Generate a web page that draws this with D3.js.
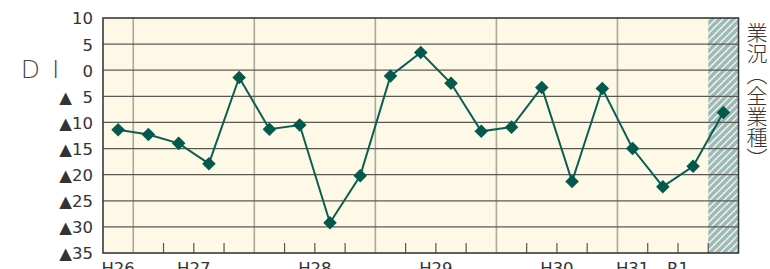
<!DOCTYPE html>
<html><head><meta charset="utf-8">
<script src="https://cdn.jsdelivr.net/npm/d3@7"></script>
<style>
html,body{margin:0;padding:0;background:#fff;}
svg{display:block;}
</style></head>
<body>
<svg id="c" width="770" height="269"></svg>
<script>
const quarters = ["H26.10-12",
  "H27.1-3","H27.4-6","H27.7-9","H27.10-12",
  "H28.1-3","H28.4-6","H28.7-9","H28.10-12",
  "H29.1-3","H29.4-6","H29.7-9","H29.10-12",
  "H30.1-3","H30.4-6","H30.7-9","H30.10-12",
  "H31.1-3","R1.4-6","R1.7-9","R1.10-12"];
const diValues = [-11.4,-12.3,-14.0,-17.9,-1.4,
  -11.3,-10.5,-29.2,-20.2,
  -1.1,3.4,-2.5,-11.7,
  -10.9,-3.3,-21.3,-3.5,
  -15.0,-22.3,-18.4,-8.1];
const yTicks = [10,5,0,-5,-10,-15,-20,-25,-30,-35];
const yearLabels = ["H26","H27","H28","H29","H30","H31","R1"];
const yearLabelAt = [0, 2.5, 6.5, 10.5, 14.5, 17, 18.5]; // in quarter-index units
const yearStarts = ["H27.1-3","H28.1-3","H29.1-3","H30.1-3","H31.1-3"];
const forecastFrom = "R1.10-12";
const yTitle = "D I";
const seriesTitle = "業況（全業種）";

const svg = d3.select("#c");
const L = 103, R = 738.5, T = 18, B = 253;
const x = d3.scaleBand().domain(quarters).range([L, R]);
const bw = x.bandwidth();
const xi = i => L + (i + 0.5) * bw;
const y = d3.scaleLinear().domain([10, -35]).range([T, B]);

// background
svg.append("rect").attr("x", L).attr("y", T).attr("width", R - L).attr("height", B - T).attr("fill", "#fdf9e6");

// hatch pattern for forecast
const defs = svg.append("defs");
const pat = defs.append("pattern").attr("id", "hatch").attr("patternUnits", "userSpaceOnUse")
  .attr("width", 7).attr("height", 7);
pat.append("rect").attr("width", 7).attr("height", 7).attr("fill", "#9dbab7");
pat.append("path").attr("d", "M-1,8 L8,-1 M-1,1 L1,-1 M6,8 L8,6").attr("stroke", "#f4f6f2").attr("stroke-width", 1.4);
svg.append("rect").attr("x", x(forecastFrom)).attr("y", T).attr("width", R - x(forecastFrom)).attr("height", B - T)
  .attr("fill", "url(#hatch)");

// year boundary lines
svg.selectAll(".yl").data(yearStarts).join("line")
  .attr("x1", d => x(d)).attr("x2", d => x(d)).attr("y1", T).attr("y2", B)
  .attr("stroke", "#aca89c").attr("stroke-width", 1.6);

// minor ticks at other quarter boundaries
const minor = quarters.slice(1).filter(q => !yearStarts.includes(q));
svg.selectAll(".mt").data(minor).join("line")
  .attr("x1", d => x(d)).attr("x2", d => x(d)).attr("y1", B - 10).attr("y2", B)
  .attr("stroke", "#555").attr("stroke-width", 1.2);

// horizontal grid
svg.selectAll(".hg").data(yTicks.slice(1, -1)).join("line")
  .attr("x1", L).attr("x2", R).attr("y1", d => y(d)).attr("y2", d => y(d))
  .attr("stroke", "#5a5855").attr("stroke-width", 1.3);

// frame
svg.append("rect").attr("x", L).attr("y", T).attr("width", R - L).attr("height", B - T)
  .attr("fill", "none").attr("stroke", "#3a3a3a").attr("stroke-width", 1.6);

// y axis labels
const fmt = v => v >= 0 ? String(v) : "▲" + (Math.abs(v) < 10 ? "\u2007" + Math.abs(v) : Math.abs(v));
const yAxis = svg.append("g").attr("transform", `translate(${L - 10},0)`)
  .call(d3.axisLeft(y).tickValues(yTicks).tickFormat(fmt).tickSize(0));
yAxis.select(".domain").remove();
yAxis.selectAll("text").attr("font-family", "DejaVu Sans, sans-serif").attr("font-size", 16.5)
  .attr("fill", "#333").attr("x", 0).attr("dy", "0.36em");

// DI title
svg.append("text").attr("x", 41).attr("y", 78).attr("text-anchor", "middle")
  .attr("font-family", "DejaVu Sans, sans-serif").attr("font-weight", 200).attr("font-size", 25)
  .attr("fill", "#444").attr("letter-spacing", 2).text(yTitle);

// year labels
svg.selectAll(".yr").data(yearLabels).join("text")
  .attr("x", (d, i) => xi(yearLabelAt[i])).attr("y", 274).attr("text-anchor", "middle")
  .attr("font-family", "DejaVu Sans, sans-serif").attr("font-size", 16.5).attr("fill", "#333")
  .text(d => d);

// line + markers
const line = d3.line().x((d, i) => x(quarters[i]) + bw / 2).y(d => y(d));
svg.append("path").datum(diValues).attr("d", line).attr("fill", "none")
  .attr("stroke", "#0a5e52").attr("stroke-width", 2);
svg.selectAll(".mk").data(diValues).join("path")
  .attr("transform", (d, i) => `translate(${x(quarters[i]) + bw / 2},${y(d)})`)
  .attr("d", "M0,-6.8 L6.8,0 L0,6.8 L-6.8,0 Z").attr("fill", "#03594c");

// series title vertical
svg.append("text").attr("x", 757).attr("y", 22)
  .attr("style", "writing-mode: vertical-rl; text-orientation: mixed;")
  .attr("font-family", "'Noto Sans CJK JP', sans-serif").attr("font-size", 21)
  .attr("font-weight", 300).attr("fill", "#333").text(seriesTitle);
</script>
</body></html>
